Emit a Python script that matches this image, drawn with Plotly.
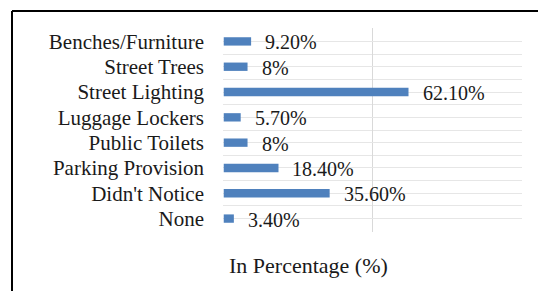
import plotly.graph_objects as go

categories = ["Benches/Furniture", "Street Trees", "Street Lighting", "Luggage Lockers",
              "Public Toilets", "Parking Provision", "Didn't Notice", "None"]
values = [9.2, 8, 62.1, 5.7, 8, 18.4, 35.6, 3.4]
labels = ["9.20%", "8%", "62.10%", "5.70%", "8%", "18.40%", "35.60%", "3.40%"]
axis_title = "In Percentage (%)"

W, H = 538, 291
L, R, T, B = 223, 16, 28, 59
pw, ph = W - L - R, H - T - B

n = len(categories)
ypos = list(range(n))[::-1]  # first category at top

fig = go.Figure()
fig.add_trace(go.Bar(
    x=values, y=ypos, orientation="h", width=0.33,
    marker=dict(color="#4F81BD", line=dict(width=0)),
    hoverinfo="skip",
))

font = "Liberation Serif"
for v, y, t in zip(values, ypos, labels):
    fig.add_annotation(x=v, y=y, text=t, showarrow=False, xanchor="left",
                       xshift=12, yshift=-1, font=dict(family=font, size=20, color="#1a1a1a"))

fig.add_annotation(x=(308 - L) / pw, y=(H - B - 265) / ph, xref="paper", yref="paper",
                   text=axis_title, showarrow=False, xanchor="center", yanchor="middle",
                   font=dict(family=font, size=22, color="#1a1a1a"))

# outer black frame (top and left)
fig.add_shape(type="line", xref="paper", yref="paper",
              x0=(12 - L) / pw, x1=(W + 5 - L) / pw, y0=(H - B - 11) / ph, y1=(H - B - 11) / ph,
              line=dict(color="black", width=2))
fig.add_shape(type="line", xref="paper", yref="paper",
              x0=(12 - L) / pw, x1=(12 - L) / pw, y0=(H - B - 11) / ph, y1=(H - B - H - 5) / ph,
              line=dict(color="black", width=2))

fig.update_layout(
    width=W, height=H,
    margin=dict(l=L, r=R, t=T, b=B),
    plot_bgcolor="white", paper_bgcolor="white",
    showlegend=False,
    font=dict(family=font),
    xaxis=dict(range=[-0.25, 100.25], tickvals=[0, 50, 100], showgrid=True,
               gridcolor="#d9d9d9", gridwidth=1,
               showticklabels=False, zeroline=False, showline=False, fixedrange=True),
    yaxis=dict(range=[-0.53, n - 0.47], tickvals=ypos, ticktext=categories,
               showgrid=True, gridcolor="#e6e6e6", gridwidth=1,
               minor=dict(tickvals=[i - 0.5 for i in range(n + 1)], showgrid=True,
                          gridcolor="#e6e6e6", gridwidth=1),
               zeroline=False, showline=False, ticks="", ticklabelstandoff=18,
               tickfont=dict(family=font, size=21, color="#1a1a1a")),
)

fig.write_html("out.html", config={"displayModeBar": False},
               post_script="document.body.style.margin='0';document.body.style.overflow='hidden';")
